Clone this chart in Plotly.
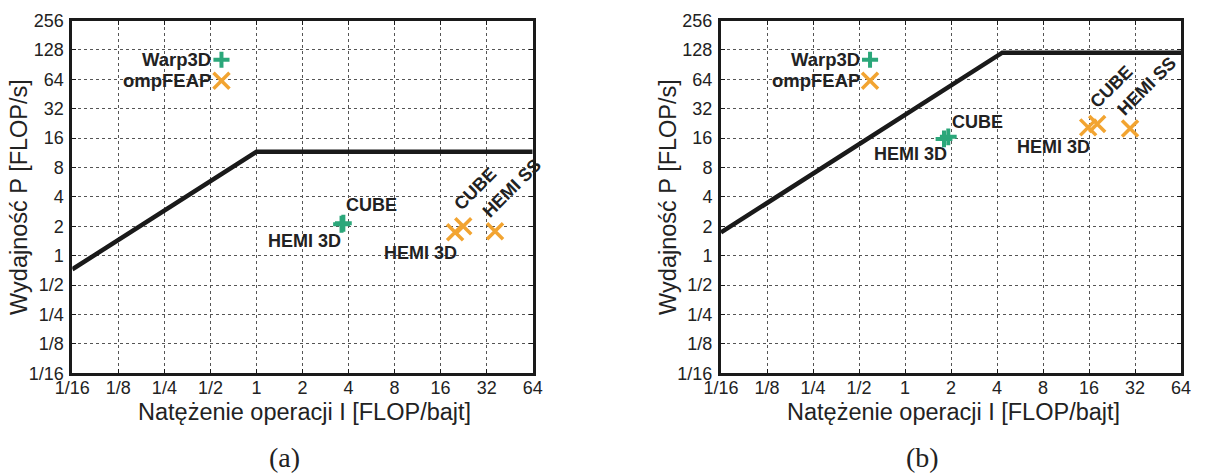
import math
import plotly.graph_objects as go

# ---------------- data ----------------
x_tickvals = [1/16, 1/8, 1/4, 1/2, 1, 2, 4, 8, 16, 32, 64]
x_ticktext = ["1/16", "1/8", "1/4", "1/2", "1", "2", "4", "8", "16", "32", "64"]
y_tickvals = [1/16, 1/8, 1/4, 1/2, 1, 2, 4, 8, 16, 32, 64, 128, 256]
y_ticktext = ["1/16", "1/8", "1/4", "1/2", "1", "2", "4", "8", "16", "32", "64", "128", "256"]

# roofline model parameters (bandwidth, peak)
roof_a_bw, roof_a_peak = 11.6, 11.6
roof_b_bw, roof_b_peak = 27.7, 120.0
I_min, I_max = 1/16, 64

warp3d_a_cases = ["HEMI 3D", "CUBE"]
warp3d_a_I = [3.6, 3.7]
warp3d_a_P = [2.1, 2.15]

ompfeap_a_cases = ["HEMI 3D", "CUBE", "HEMI SS"]
ompfeap_a_I = [19.9, 22.5, 36.3]
ompfeap_a_P = [1.74, 2.0, 1.78]

warp3d_b_cases = ["HEMI 3D", "CUBE"]
warp3d_b_I = [1.80, 1.92]
warp3d_b_P = [15.7, 16.5]

ompfeap_b_cases = ["HEMI 3D", "CUBE", "HEMI SS"]
ompfeap_b_I = [15.8, 18.1, 29.7]
ompfeap_b_P = [20.6, 22.3, 20.1]

series_names = ["Warp3D", "ompFEAP"]
panel_labels = ["(a)", "(b)"]

# ---------------- style ----------------
W, H = 1211, 473
GREEN = "#2ba77a"
ORANGE = "#f2a431"
INK = "#1a1a1a"
TXT = "#222222"
SANS = "Liberation Sans, Arial, sans-serif"
SERIF = "Liberation Serif, Times New Roman, serif"

# label offsets (screen px: dx right, dy down, angle)
label_style_a = {
    ("w", "CUBE"): (28, -18, 0),
    ("w", "HEMI 3D"): (-37, 17, 0),
    ("o", "HEMI 3D"): (-35, 21, 0),
    ("o", "CUBE"): (12, -37, -45),
    ("o", "HEMI SS"): (17, -43, -45),
}
label_style_b = {
    ("w", "CUBE"): (29, -15, 0),
    ("w", "HEMI 3D"): (-34, 15, 0),
    ("o", "HEMI 3D"): (-35, 20, 0),
    ("o", "CUBE"): (14, -37, -45),
    ("o", "HEMI SS"): (17, -42, -45),
}

panels = [
    dict(xa="x", ya="y", bw=roof_a_bw, peak=roof_a_peak,
         wI=warp3d_a_I, wP=warp3d_a_P, wC=warp3d_a_cases,
         oI=ompfeap_a_I, oP=ompfeap_a_P, oC=ompfeap_a_cases,
         dom_x=(72.3 / W, 532.7 / W), lab=label_style_a,
         title_x=19, sub_x=284),
    dict(xa="x2", ya="y2", bw=roof_b_bw, peak=roof_b_peak,
         wI=warp3d_b_I, wP=warp3d_b_P, wC=warp3d_b_cases,
         oI=ompfeap_b_I, oP=ompfeap_b_P, oC=ompfeap_b_cases,
         dom_x=(721.0 / W, 1181.0 / W), lab=label_style_b,
         title_x=668, sub_x=922),
]
dom_y = (1 - 373.3 / H, 1 - 20.5 / H)

# legend key position in axis-domain fractions
KEY_FX = 0.324
KEY_FY = [0.8886, 0.8291]

fig = go.Figure()
annotations = []

for k, p in enumerate(panels):
    xa, ya = p["xa"], p["ya"]
    ridge = p["peak"] / p["bw"]
    fig.add_trace(go.Scatter(
        x=[I_min, ridge, I_max], y=[p["bw"] * I_min, p["peak"], p["peak"]],
        mode="lines", line=dict(color=INK, width=4.5),
        xaxis=xa, yaxis=ya, showlegend=False, hoverinfo="skip"))
    fig.add_trace(go.Scatter(
        x=p["wI"], y=p["wP"], mode="markers", name=series_names[0],
        marker=dict(symbol="cross-thin", size=12, color=GREEN,
                    line=dict(color=GREEN, width=4)),
        xaxis=xa, yaxis=ya, showlegend=False))
    fig.add_trace(go.Scatter(
        x=p["oI"], y=p["oP"], mode="markers", name=series_names[1],
        marker=dict(symbol="x-thin", size=16, color=ORANGE,
                    line=dict(color=ORANGE, width=3.5)),
        xaxis=xa, yaxis=ya, showlegend=False))

    # legend keys
    key_I = 2 ** (-4 + 10 * KEY_FX)
    key_P = [2 ** (-4 + 12 * f) for f in KEY_FY]
    fig.add_trace(go.Scatter(
        x=[key_I], y=[key_P[0]], mode="markers",
        marker=dict(symbol="cross-thin", size=11.5, color=GREEN,
                    line=dict(color=GREEN, width=4)),
        xaxis=xa, yaxis=ya, showlegend=False, hoverinfo="skip"))
    fig.add_trace(go.Scatter(
        x=[key_I], y=[key_P[1]], mode="markers",
        marker=dict(symbol="x-thin", size=16, color=ORANGE,
                    line=dict(color=ORANGE, width=3.5)),
        xaxis=xa, yaxis=ya, showlegend=False, hoverinfo="skip"))
    for name, fy in zip(series_names, KEY_FY):
        annotations.append(dict(
            text="<b>%s</b>" % name, xref=xa + " domain", yref=ya + " domain",
            x=KEY_FX, y=fy, xanchor="right", yanchor="middle", xshift=-9,
            borderpad=0,
            showarrow=False, font=dict(family=SANS, size=18.5, color=TXT)))

    # point labels
    for tag, Is, Ps, Cs in (("w", p["wI"], p["wP"], p["wC"]),
                            ("o", p["oI"], p["oP"], p["oC"])):
        for I, P, c in zip(Is, Ps, Cs):
            dx, dy, ang = p["lab"][(tag, c)]
            annotations.append(dict(
                text="<b>%s</b>" % c, xref=xa, yref=ya,
                x=math.log10(I), y=math.log10(P),
                xanchor="center", yanchor="middle",
                xshift=dx, yshift=-dy, textangle=ang,
                showarrow=False, font=dict(family=SANS, size=18, color=TXT)))

    # axis titles + panel label
    cx = (p["dom_x"][0] + p["dom_x"][1]) / 2
    annotations.append(dict(
        text="Natężenie operacji I [FLOP/bajt]", xref="paper", yref="paper",
        x=cx + 2 / W, y=1 - 412 / H, xanchor="center", yanchor="middle",
        showarrow=False, font=dict(family=SANS, size=23.5, color=TXT)))
    annotations.append(dict(
        text="Wydajność P [FLOP/s]", xref="paper", yref="paper",
        x=p["title_x"] / W, y=(dom_y[0] + dom_y[1]) / 2,
        xanchor="center", yanchor="middle", textangle=-90,
        showarrow=False, font=dict(family=SANS, size=23.5, color=TXT)))
    annotations.append(dict(
        text=panel_labels[k], xref="paper", yref="paper",
        x=p["sub_x"] / W, y=1 - 457 / H, xanchor="center", yanchor="middle",
        showarrow=False, font=dict(family=SERIF, size=28, color=TXT)))

axis_common = dict(
    type="log", showgrid=True, gridcolor="#555555", gridwidth=1, griddash="dot",
    showline=True, linecolor=INK, linewidth=3, mirror="ticks",
    ticks="inside", ticklen=4, tickwidth=1, tickcolor=INK,
    zeroline=False, automargin=False,
    tickfont=dict(family=SANS, size=18, color=TXT),
)
xcommon = dict(axis_common, range=[math.log10(I_min), math.log10(I_max)],
               tickmode="array", tickvals=x_tickvals, ticktext=x_ticktext,
               ticklabelstandoff=-4)
ycommon = dict(axis_common, range=[math.log10(1/16), math.log10(256)],
               tickmode="array", tickvals=y_tickvals, ticktext=y_ticktext,
               ticklabelstandoff=2)

fig.update_layout(
    template="none",
    width=W, height=H,
    margin=dict(l=0, r=0, t=0, b=0, pad=0, autoexpand=False),
    paper_bgcolor="white", plot_bgcolor="white",
    showlegend=False,
    xaxis=dict(xcommon, domain=list(panels[0]["dom_x"]), anchor="y"),
    yaxis=dict(ycommon, domain=list(dom_y), anchor="x"),
    xaxis2=dict(xcommon, domain=list(panels[1]["dom_x"]), anchor="y2"),
    yaxis2=dict(ycommon, domain=list(dom_y), anchor="x2"),
    annotations=annotations,
)

fig.write_html("out.html")
